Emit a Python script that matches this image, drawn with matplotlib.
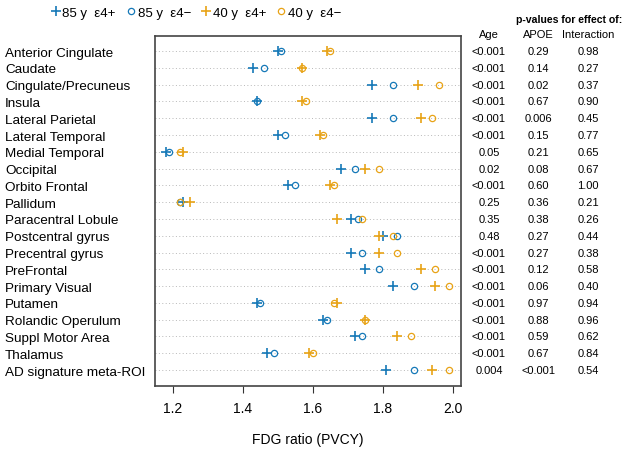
import matplotlib
matplotlib.use("Agg")
import matplotlib.pyplot as plt
import matplotlib.transforms as mtransforms

plt.rcParams['font.family'] = ['Liberation Sans', 'DejaVu Sans']

regions = ["Anterior Cingulate", "Caudate", "Cingulate/Precuneus", "Insula",
           "Lateral Parietal", "Lateral Temporal", "Medial Temporal", "Occipital",
           "Orbito Frontal", "Pallidum", "Paracentral Lobule", "Postcentral gyrus",
           "Precentral gyrus", "PreFrontal", "Primary Visual", "Putamen",
           "Rolandic Operulum", "Suppl Motor Area", "Thalamus", "AD signature meta-ROI"]

old_e4pos = [1.50, 1.43, 1.77, 1.44, 1.77, 1.50, 1.18, 1.68, 1.53, 1.23,
             1.71, 1.80, 1.71, 1.75, 1.83, 1.44, 1.63, 1.72, 1.47, 1.81]
old_e4neg = [1.51, 1.46, 1.83, 1.44, 1.83, 1.52, 1.19, 1.72, 1.55, 1.22,
             1.73, 1.84, 1.74, 1.79, 1.89, 1.45, 1.64, 1.74, 1.49, 1.89]
young_e4pos = [1.64, 1.57, 1.90, 1.57, 1.91, 1.62, 1.23, 1.75, 1.65, 1.25,
               1.67, 1.79, 1.79, 1.91, 1.95, 1.67, 1.75, 1.84, 1.59, 1.94]
young_e4neg = [1.65, 1.57, 1.96, 1.58, 1.94, 1.63, 1.22, 1.79, 1.66, 1.22,
               1.74, 1.83, 1.84, 1.95, 1.99, 1.66, 1.75, 1.88, 1.60, 1.99]

p_age = ["<0.001", "<0.001", "<0.001", "<0.001", "<0.001", "<0.001", "0.05", "0.02",
         "<0.001", "0.25", "0.35", "0.48", "<0.001", "<0.001", "<0.001", "<0.001",
         "<0.001", "<0.001", "<0.001", "0.004"]
p_apoe = ["0.29", "0.14", "0.02", "0.67", "0.006", "0.15", "0.21", "0.08", "0.60",
          "0.36", "0.38", "0.27", "0.27", "0.12", "0.06", "0.97", "0.88", "0.59",
          "0.67", "<0.001"]
p_int = ["0.98", "0.27", "0.37", "0.90", "0.45", "0.77", "0.65", "0.67", "1.00",
         "0.21", "0.26", "0.44", "0.38", "0.58", "0.40", "0.94", "0.96", "0.62",
         "0.84", "0.54"]

blue = "#1679B8"
orange = "#E8A317"

fig = plt.figure(figsize=(6.24, 4.52), dpi=100)
ax = fig.add_axes([155/624, 1-387/452, 306/624, 350/452])

n = len(regions)
ys = list(range(n))

for y in ys:
    ax.axhline(y, color="#b8b8b8", lw=0.7, ls=(0, (1, 2.5)), zorder=0)

ax.plot(old_e4pos, ys, ls="none", marker="+", ms=7, mew=1.2, color=blue, label="85 y  ε4+")
ax.plot(old_e4neg, ys, ls="none", marker="o", ms=4.5, mew=0.9, mfc="none", color=blue, label="85 y  ε4−")
ax.plot(young_e4pos, ys, ls="none", marker="+", ms=7, mew=1.2, color=orange, label="40 y  ε4+")
ax.plot(young_e4neg, ys, ls="none", marker="o", ms=4.5, mew=0.9, mfc="none", color=orange, label="40 y  ε4−")

ax.set_xlim(1.149, 2.023)
ax.set_ylim(n - 1 + 0.95, -0.9)
ax.set_xticks([1.2, 1.4, 1.6, 1.8, 2.0])
ax.set_xticklabels(["1.2", "1.4", "1.6", "1.8", "2.0"], fontsize=10)
ax.tick_params(axis='x', length=5, width=0.8, color="#333333", pad=6)
ax.set_yticks(ys)
ax.set_yticklabels(regions, fontsize=9.7)
ax.tick_params(axis='y', length=0, pad=108)
for lbl in ax.get_yticklabels():
    lbl.set_horizontalalignment('left')
for s in ax.spines.values():
    s.set_color("#444444")
    s.set_linewidth(1.2)
ax.set_xlabel("FDG ratio (PVCY)", fontsize=10, labelpad=12)

leg = fig.legend(loc="upper left", bbox_to_anchor=(0.062, 1.01), ncol=4, frameon=False,
                 fontsize=9.5, handletextpad=0.1, columnspacing=0.75, handlelength=0.8)

trans = mtransforms.blended_transform_factory(fig.transFigure, ax.transData)
cols = [(489/624, p_age, "Age"), (538/624, p_apoe, "APOE"), (588/624, p_int, "Interaction")]
for xc, vals, head in cols:
    ax.text(xc, -1, head, transform=trans, ha="center", va="center", fontsize=8, clip_on=False)
    for y, v in zip(ys, vals):
        ax.text(xc, y, v, transform=trans, ha="center", va="center", fontsize=8, clip_on=False)
fig.text(569/624, 1-20/452, "p-values for effect of:", ha="center", va="center",
         fontsize=7.6, fontweight="bold")

fig.savefig("out.png", dpi=100)
